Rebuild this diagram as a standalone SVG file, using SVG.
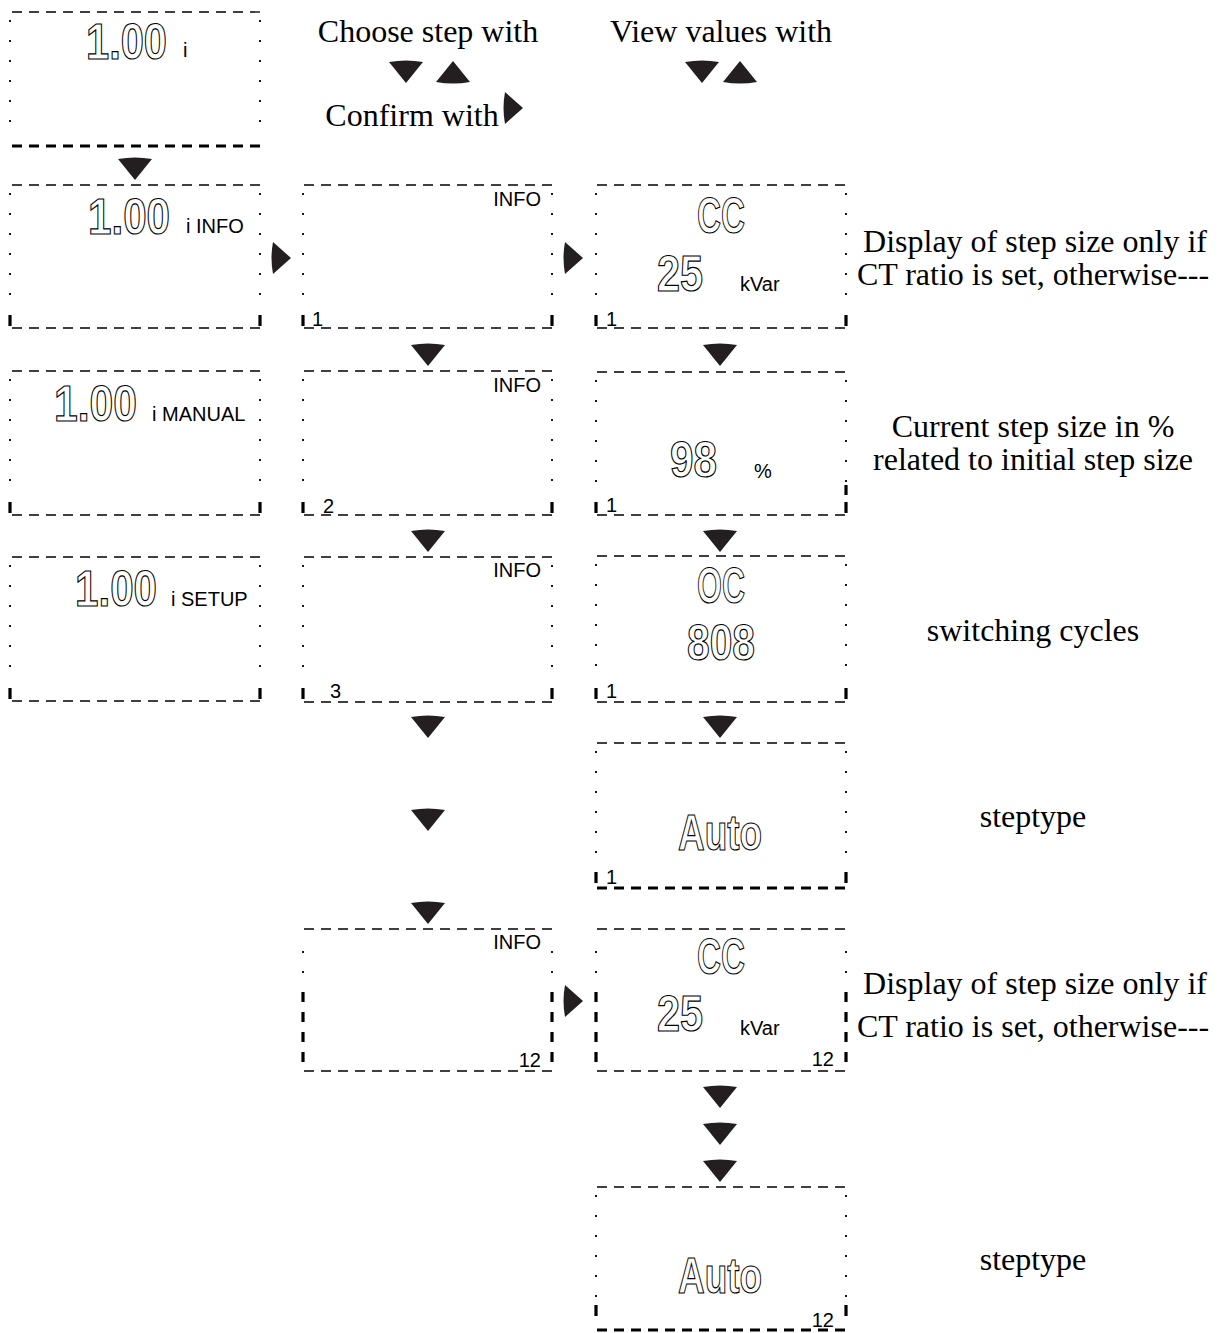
<svg xmlns="http://www.w3.org/2000/svg" xmlns:xlink="http://www.w3.org/1999/xlink" width="1218" height="1333" viewBox="0 0 1218 1333">
<style>
.bt{fill:none;stroke:#000;stroke-width:1.3;stroke-dasharray:10 7}
.bk{fill:none;stroke:#000;stroke-width:3;stroke-dasharray:10 7}
.sd{fill:none;stroke:#000;stroke-width:1.8;stroke-dasharray:2 18}
.sk{fill:none;stroke:#000;stroke-width:3.2}
.skd{fill:none;stroke:#000;stroke-width:3.2;stroke-dasharray:10 10}
.big{font-family:"Liberation Sans",Arial,sans-serif;font-size:50px;font-weight:bold;fill:#fff;stroke:#000;stroke-width:1.2}
.sm{font-family:"Liberation Sans",Arial,sans-serif;font-size:20px;fill:#000}
.ser{font-family:"Liberation Serif","Times New Roman",serif;font-size:32px;fill:#000;text-anchor:middle}
.tri{fill:#231f20}
</style>
<defs>
<path id="td" d="M-17,-10 Q0,-13 17,-10 L0,11 Z"/>
<path id="tu" d="M-17,10 Q0,13 17,10 L0,-11 Z"/>
<path id="tr" d="M-9,-16 Q-12,0 -9,16 L9,0 Z"/>
</defs>
<rect width="1218" height="1333" fill="#fff"/>

<g id="header">
<text class="ser" x="428" y="42">Choose step with</text>
<text class="ser" x="412" y="126">Confirm with</text>
<text class="ser" x="721" y="42">View values with</text>
<use xlink:href="#td" class="tri" x="406" y="72"/>
<use xlink:href="#tu" class="tri" x="453" y="72"/>
<use xlink:href="#tr" class="tri" x="514" y="108"/>
<use xlink:href="#td" class="tri" x="702" y="72"/>
<use xlink:href="#tu" class="tri" x="740" y="72"/>
</g>

<g id="box-c1-0">
<path class="bt" d="M12,12 H260"/>
<path class="bk" d="M12,146 H260"/>
<path class="sd" d="M10,20 V140 M260,20 V140"/>
<text class="big" x="86" y="59" textLength="81" lengthAdjust="spacingAndGlyphs">1.00</text>
<text class="sm" x="183" y="57">i</text>
</g>

<g id="box-c1-1">
<path class="bt" d="M12,185 H260 M12,328 H260"/>
<path class="sd" d="M10,193 V312 M260,193 V312"/>
<path class="sk" d="M10,315 V326 M260,315 V326"/>
<text class="big" x="88" y="234" textLength="82" lengthAdjust="spacingAndGlyphs">1.00</text>
<text class="sm" x="186" y="233">i INFO</text>
</g>

<g id="box-c1-2">
<path class="bt" d="M12,371 H260 M12,515 H260"/>
<path class="sd" d="M10,379 V498 M260,379 V498"/>
<path class="sk" d="M10,502 V513 M260,502 V513"/>
<text class="big" x="54" y="421" textLength="83" lengthAdjust="spacingAndGlyphs">1.00</text>
<text class="sm" x="152" y="421">i MANUAL</text>
</g>

<g id="box-c1-3">
<path class="bt" d="M12,557 H260 M12,701 H260"/>
<path class="sd" d="M10,565 V684 M260,565 V684"/>
<path class="sk" d="M10,688 V699 M260,688 V699"/>
<text class="big" x="75" y="606" textLength="82" lengthAdjust="spacingAndGlyphs">1.00</text>
<text class="sm" x="171" y="606">i SETUP</text>
</g>

<g id="box-c2-1">
<path class="bt" d="M304,185 H552 M304,328 H552"/>
<path class="sd" d="M303,193 V312 M552,193 V312"/>
<path class="sk" d="M303,315 V326 M552,315 V326"/>
<text class="sm" x="541" y="206" text-anchor="end">INFO</text>
<text class="sm" x="312" y="326">1</text>
</g>

<g id="box-c2-2">
<path class="bt" d="M304,371 H552 M304,515 H552"/>
<path class="sd" d="M303,379 V498 M552,379 V498"/>
<path class="sk" d="M303,502 V513 M552,502 V513"/>
<text class="sm" x="541" y="392" text-anchor="end">INFO</text>
<text class="sm" x="323" y="513">2</text>
</g>

<g id="box-c2-3">
<path class="bt" d="M304,557 H552 M304,702 H552"/>
<path class="sd" d="M303,565 V684 M552,565 V684"/>
<path class="sk" d="M303,688 V699 M552,688 V699"/>
<text class="sm" x="541" y="577" text-anchor="end">INFO</text>
<text class="sm" x="330" y="698">3</text>
</g>

<g id="box-c2-12">
<path class="bt" d="M304,929 H552 M304,1071 H552"/>
<path class="sd" d="M303,951 V980 M552,951 V980"/>
<path class="skd" d="M303,992 V1068 M552,992 V1068"/>
<text class="sm" x="541" y="949" text-anchor="end">INFO</text>
<text class="sm" x="541" y="1067" text-anchor="end">12</text>
</g>

<g id="box-c3-1">
<path class="bt" d="M597,185 H846 M597,328 H846"/>
<path class="sd" d="M596,193 V312 M846,193 V312"/>
<path class="sk" d="M596,315 V326 M846,315 V326"/>
<text class="big" x="697" y="233" textLength="48" lengthAdjust="spacingAndGlyphs">CC</text>
<text class="big" x="657" y="291" textLength="46" lengthAdjust="spacingAndGlyphs">25</text>
<text class="sm" x="740" y="291">kVar</text>
<text class="sm" x="606" y="326">1</text>
</g>

<g id="box-c3-2">
<path class="bt" d="M597,372 H846 M597,515 H846"/>
<path class="sd" d="M596,380 V498 M846,380 V498"/>
<path class="sk" d="M596,502 V513 M846,485 V495 M846,502 V513"/>
<text class="big" x="670" y="477" textLength="47" lengthAdjust="spacingAndGlyphs">98</text>
<text class="sm" x="754" y="478">%</text>
<text class="sm" x="606" y="512">1</text>
</g>

<g id="box-c3-3">
<path class="bt" d="M597,556 H846 M597,702 H846"/>
<path class="sd" d="M596,564 V684 M846,564 V684"/>
<path class="sk" d="M596,688 V699 M846,688 V699"/>
<text class="big" x="697" y="603" textLength="48" lengthAdjust="spacingAndGlyphs">OC</text>
<text class="big" x="687" y="660" textLength="68" lengthAdjust="spacingAndGlyphs">808</text>
<text class="sm" x="606" y="698">1</text>
</g>

<g id="box-c3-4">
<path class="bt" d="M597,743 H846"/>
<path class="bk" d="M597,888 H846"/>
<path class="sd" d="M596,751 V866 M846,751 V866"/>
<path class="sk" d="M596,872 V883 M846,872 V883"/>
<text class="big" x="678" y="850" textLength="84" lengthAdjust="spacingAndGlyphs">Auto</text>
<text class="sm" x="606" y="884">1</text>
</g>

<g id="box-c3-12">
<path class="bt" d="M597,929 H846 M597,1071 H846"/>
<path class="sd" d="M596,951 V980 M846,951 V980"/>
<path class="skd" d="M596,992 V1068 M846,992 V1068"/>
<text class="big" x="697" y="974" textLength="48" lengthAdjust="spacingAndGlyphs">CC</text>
<text class="big" x="657" y="1031" textLength="46" lengthAdjust="spacingAndGlyphs">25</text>
<text class="sm" x="740" y="1035">kVar</text>
<text class="sm" x="834" y="1066" text-anchor="end">12</text>
</g>

<g id="box-c3-13">
<path class="bt" d="M597,1187 H846"/>
<path class="bk" d="M597,1330 H846"/>
<path class="sd" d="M596,1195 V1300 M846,1195 V1300"/>
<path class="sk" d="M596,1305 V1316 M846,1305 V1316"/>
<text class="big" x="678" y="1293" textLength="84" lengthAdjust="spacingAndGlyphs">Auto</text>
<text class="sm" x="834" y="1327" text-anchor="end">12</text>
</g>

<g id="notes">
<text class="ser" x="1035" y="252">Display of step size only if</text>
<text class="ser" x="1033" y="285">CT ratio is set, otherwise---</text>
<text class="ser" x="1033" y="437">Current step size in %</text>
<text class="ser" x="1033" y="470">related to initial step size</text>
<text class="ser" x="1033" y="641">switching cycles</text>
<text class="ser" x="1033" y="827">steptype</text>
<text class="ser" x="1035" y="994">Display of step size only if</text>
<text class="ser" x="1033" y="1037">CT ratio is set, otherwise---</text>
<text class="ser" x="1033" y="1270">steptype</text>
</g>

<g id="connectors">
<use xlink:href="#td" class="tri" x="135" y="169"/>
<use xlink:href="#tr" class="tri" x="282" y="258"/>
<use xlink:href="#tr" class="tri" x="574" y="258"/>
<use xlink:href="#td" class="tri" x="428" y="355"/>
<use xlink:href="#td" class="tri" x="428" y="541"/>
<use xlink:href="#td" class="tri" x="428" y="727"/>
<use xlink:href="#td" class="tri" x="428" y="820"/>
<use xlink:href="#td" class="tri" x="428" y="913"/>
<use xlink:href="#tr" class="tri" x="574" y="1001"/>
<use xlink:href="#td" class="tri" x="720" y="355"/>
<use xlink:href="#td" class="tri" x="720" y="541"/>
<use xlink:href="#td" class="tri" x="720" y="727"/>
<use xlink:href="#td" class="tri" x="720" y="1097"/>
<use xlink:href="#td" class="tri" x="720" y="1134"/>
<use xlink:href="#td" class="tri" x="720" y="1171"/>
</g>
</svg>
